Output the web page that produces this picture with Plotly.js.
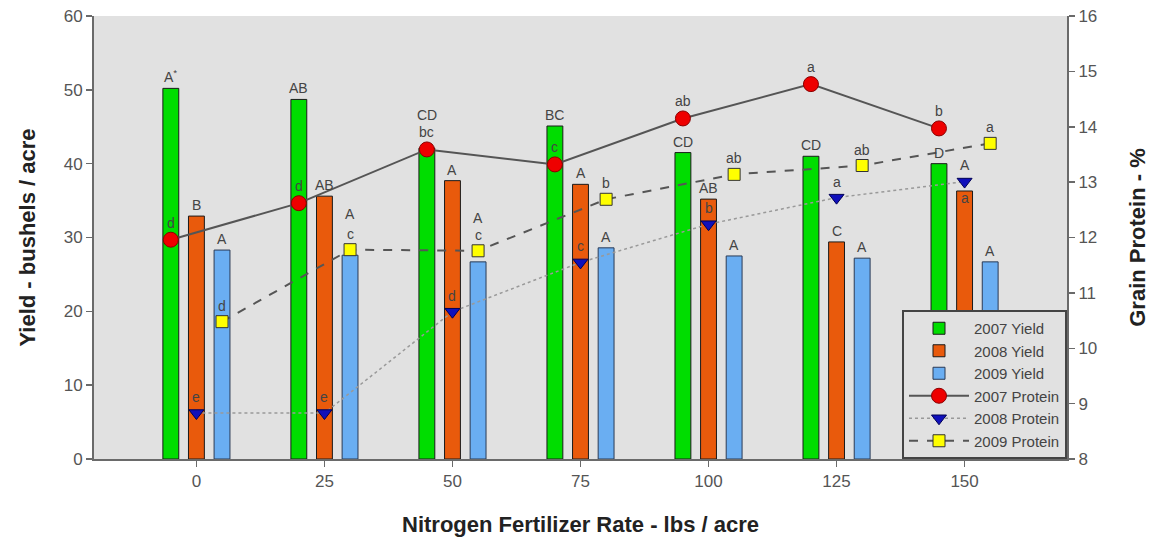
<!DOCTYPE html>
<html>
<head>
<meta charset="utf-8">
<script src="https://cdn.plot.ly/plotly-3.0.1.min.js"></script>
<style>html,body{margin:0;padding:0;background:#fff;}#chart{width:1156px;height:550px;}</style>
</head>
<body>
<div id="chart"></div>
<script>
// ---- data ----
const rates = [0, 25, 50, 75, 100, 125, 150];
const yield2007 = [50.2, 48.7, 42.1, 45.1, 41.5, 41.0, 40.0];
const yield2008 = [32.9, 35.6, 37.7, 37.2, 35.2, 29.4, 36.3];
const yield2009 = [28.3, 27.6, 26.7, 28.6, 27.5, 27.2, 26.7];
const protein2007 = [11.96, 12.62, 13.59, 13.32, 14.15, 14.77, 13.97];
const protein2008 = [8.83, 8.83, 10.66, 11.55, 12.24, 12.72, 13.01];
const protein2009 = [10.48, 11.78, 11.76, 12.69, 13.14, 13.30, 13.70];
const yield2007Labels = ["A<sup>*</sup>", "AB", "CD", "BC", "CD", "CD", "D"];
const yield2008Labels = ["B", "AB", "A", "A", "AB", "C", "A"];
const yield2009Labels = ["A", "A", "A", "A", "A", "A", "A"];
const protein2007Labels = ["d", "d", "bc", "c", "ab", "a", "b"];
const protein2008Labels = ["e", "e", "d", "c", "b", "a", "a"];
const protein2009Labels = ["d", "c", "c", "b", "ab", "ab", "a"];

// ---- style (label offsets in pixels, to avoid overlaps) ----
const y07Extra = [0, 0, 22, 0, 0, 0, 0];
const y08Extra = [0, 0, 0, 0, 0, 0, 15];
const y09Extra = [0, 30, 33, 0, 0, 0, 0];
const p08Below = [false, false, false, false, false, false, true];

const OFF = 5;
const x07 = rates.map(r => r - OFF);
const x08 = rates.slice();
const x09 = rates.map(r => r + OFF);

const font = "Liberation Sans, Arial, sans-serif";
const barW = 3.1;

const traces = [
  {type: 'bar', name: '2007 Yield', x: x07, y: yield2007, width: barW,
   marker: {color: '#00dd00', line: {color: '#1a1a1a', width: 1}}},
  {type: 'bar', name: '2008 Yield', x: x08, y: yield2008, width: barW,
   marker: {color: '#e95a0c', line: {color: '#1a1a1a', width: 1}}},
  {type: 'bar', name: '2009 Yield', x: x09, y: yield2009, width: barW,
   marker: {color: '#6aaef2', line: {color: '#2a3a55', width: 1}}},
  {type: 'scatter', mode: 'lines+markers', name: '2007 Protein', x: x07, y: protein2007, yaxis: 'y2',
   line: {color: '#555555', width: 2},
   marker: {symbol: 'circle', size: 15, color: '#ee0000', line: {color: '#8a0000', width: 1}}},
  {type: 'scatter', mode: 'lines+markers', name: '2008 Protein', x: x08, y: protein2008, yaxis: 'y2',
   line: {color: '#999999', width: 1.5, dash: 'dot'},
   marker: {symbol: 'triangle-down', size: 13, color: '#1010bb', line: {color: '#000055', width: 1}}},
  {type: 'scatter', mode: 'lines+markers', name: '2009 Protein', x: x09, y: protein2009, yaxis: 'y2',
   line: {color: '#555555', width: 2, dash: 'dash'},
   marker: {symbol: 'square', size: 12, color: '#ffff00', line: {color: '#333333', width: 1}}}
];

const annotations = [];
function addLabels(xs, ys, labels, yref, base, extra, below) {
  for (let i = 0; i < xs.length; i++) {
    const isBelow = below && below[i];
    annotations.push({
      x: xs[i], y: ys[i], xref: 'x', yref: yref, text: labels[i], showarrow: false,
      yanchor: isBelow ? 'top' : 'bottom',
      yshift: isBelow ? -base : base + (extra ? extra[i] : 0),
      font: {family: font, size: 14, color: '#444444'}
    });
  }
}
addLabels(x07, yield2007, yield2007Labels, 'y', 1, y07Extra);
addLabels(x08, yield2008, yield2008Labels, 'y', 1, y08Extra);
addLabels(x09, yield2009, yield2009Labels, 'y', 1, y09Extra);
addLabels(x07, protein2007, protein2007Labels, 'y2', 7);
addLabels(x08, protein2008, protein2008Labels, 'y2', 6, null, p08Below);
addLabels(x09, protein2009, protein2009Labels, 'y2', 6);

const layout = {
  width: 1156, height: 550,
  margin: {l: 94, r: 89, t: 16, b: 91},
  paper_bgcolor: '#ffffff',
  plot_bgcolor: '#e1e1e1',
  showlegend: true,
  barmode: 'overlay',
  font: {family: font, color: '#555'},
  xaxis: {
    range: [-20, 170], tickvals: rates, ticktext: rates.map(String),
    showgrid: false, zeroline: false, showline: true, linecolor: '#6a6a6a', linewidth: 2,
    ticks: 'outside', ticklen: 6, tickcolor: '#6a6a6a', tickwidth: 1.5,
    tickfont: {family: font, size: 17, color: '#555'},
    title: {text: 'Nitrogen Fertilizer Rate - lbs / acre', standoff: 26,
            font: {family: font, size: 22, color: '#222', weight: 'bold'}}
  },
  yaxis: {
    range: [0, 60], dtick: 10, showgrid: false, zeroline: false,
    showline: true, linecolor: '#6a6a6a', linewidth: 2,
    ticks: 'outside', ticklen: 6, tickcolor: '#6a6a6a', tickwidth: 1.5,
    tickfont: {family: font, size: 17, color: '#555'},
    title: {text: 'Yield - bushels / acre', standoff: 22,
            font: {family: font, size: 22, color: '#222', weight: 'bold'}}
  },
  yaxis2: {
    range: [8, 16], dtick: 1, overlaying: 'y', side: 'right', showgrid: false, zeroline: false,
    showline: true, linecolor: '#6a6a6a', linewidth: 2,
    ticks: 'outside', ticklen: 6, tickcolor: '#6a6a6a', tickwidth: 1.5,
    tickfont: {family: font, size: 17, color: '#555'},
    title: {text: 'Grain Protein - %', standoff: 33,
            font: {family: font, size: 22, color: '#222', weight: 'bold'}}
  },
  legend: {
    x: 1, y: 0, xanchor: 'right', yanchor: 'bottom',
    bgcolor: '#e1e1e1', bordercolor: '#444', borderwidth: 2,
    font: {family: font, size: 15, color: '#444'},
    itemwidth: 60, tracegroupgap: 0
  },
  annotations: annotations
};

Plotly.newPlot('chart', traces, layout, {displayModeBar: false, staticPlot: true});
</script>
</body>
</html>
